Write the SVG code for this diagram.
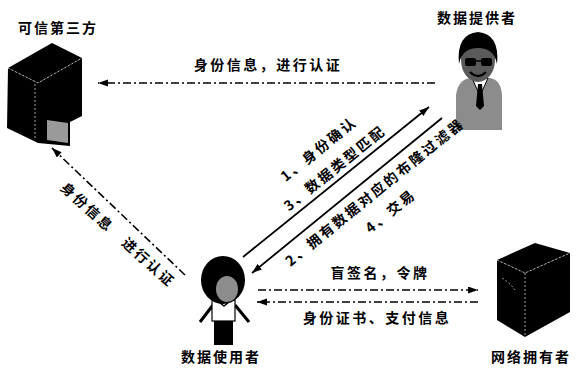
<svg xmlns="http://www.w3.org/2000/svg" width="576" height="375" viewBox="0 0 576 375">
  <defs>
    <style>
      .lbl { font-family: "Noto Sans CJK SC", "Liberation Sans", sans-serif; font-weight: bold; font-size: 14px; fill: #000; letter-spacing: 2.5px; }
      .name { font-family: "Noto Sans CJK SC", "Liberation Sans", sans-serif; font-weight: bold; font-size: 14px; fill: #000; letter-spacing: 2px; text-anchor: middle; }
      .solid { stroke: #000; stroke-width: 1.8; fill: none; }
      .dd { stroke: #000; stroke-width: 1.6; fill: none; stroke-dasharray: 8 3 2 3; }
      .edge { stroke: #fff; stroke-width: 0.8; stroke-dasharray: 2 2; fill: none; opacity: 0.8; }
    </style>
    <marker id="ah" markerUnits="userSpaceOnUse" markerWidth="11" markerHeight="8" refX="10" refY="3.5" orient="auto">
      <path d="M0,0 L10,3.5 L0,7 z" fill="#000"/>
    </marker>
  </defs>

  <rect width="576" height="375" fill="#fff"/>

  <!-- trusted third party: server box -->
  <g id="trusted-party">
    <text class="name" x="58" y="33">可信第三方</text>
    <polygon points="8,68 52,43 82,58 38,83" fill="#000"/>
    <polygon points="8,68 38,83 38,143 7,128" fill="#000"/>
    <polygon points="38,83 82,58 82,116 70,122 70,146 38,143" fill="#000"/>
    <polygon points="47,120 68,123 68,143 47,140" fill="#9a9a9a"/>
    <polyline class="edge" points="8,68 38,83 82,58"/>
    <line class="edge" x1="35" y1="84" x2="35" y2="140"/>
  </g>

  <!-- data provider: man in suit -->
  <g id="data-provider">
    <text class="name" x="477" y="23">数据提供者</text>
    <path d="M456,130 L456,95 Q458,80 470,78 L490,78 Q501,80 502,95 L502,130 z" fill="#8c8c8c"/>
    <path d="M472,78 L480,96 L488,78 z" fill="#fff" stroke="#000" stroke-width="1"/>
    <path d="M478,84 L482,84 L484,106 L480,110 L476,106 z" fill="#000"/>
    <ellipse cx="478" cy="60" rx="17" ry="22" fill="#5a5a5a"/>
    <path d="M459,64 Q456,34 478,32 Q500,34 497,64 Q494,48 478,48 Q462,48 459,64 z" fill="#000"/>
    <rect x="465" y="58" width="11" height="8" rx="2" fill="#000"/>
    <rect x="481" y="58" width="11" height="8" rx="2" fill="#000"/>
    <line x1="476" y1="61" x2="481" y2="61" stroke="#000" stroke-width="1.5"/>
    <path d="M470,72 Q478,80 486,72" fill="none" stroke="#000" stroke-width="2"/>
  </g>

  <!-- data user: small figure -->
  <g id="data-user">
    <text class="name" x="221" y="362">数据使用者</text>
    <line x1="213" y1="305" x2="200" y2="322" stroke="#000" stroke-width="3"/>
    <line x1="235" y1="305" x2="249" y2="322" stroke="#000" stroke-width="3"/>
    <rect x="214" y="318" width="19" height="27" fill="#000"/>
    <rect x="212" y="300" width="23" height="21" fill="#fff" stroke="#000" stroke-width="1.2"/>
    <ellipse cx="223" cy="280" rx="22" ry="24" fill="#000"/>
    <ellipse cx="227" cy="289" rx="11" ry="13" fill="#8c8c8c"/>
    <path d="M219,302 L224,306 L229,302" fill="none" stroke="#000" stroke-width="1.5"/>
  </g>

  <!-- network owner: server box -->
  <g id="network-owner">
    <text class="name" x="531" y="362">网络拥有者</text>
    <polygon points="497,260 535,243 570,253 525,273" fill="#000"/>
    <polygon points="497,260 525,273 525,337 497,320" fill="#000"/>
    <polygon points="525,273 570,253 570,312 525,337" fill="#000"/>
    <polyline class="edge" points="497,260 525,273 570,253"/>
    <line class="edge" x1="525" y1="273" x2="525" y2="335"/>
    <path class="edge" d="M502,278 Q510,283 515,290"/>
  </g>

  <!-- connectors -->
  <g id="connectors">
    <line class="dd" x1="435" y1="83" x2="98" y2="83" marker-end="url(#ah)"/>
    <line class="dd" x1="185" y1="275" x2="52" y2="148" marker-end="url(#ah)"/>
    <line class="solid" x1="243" y1="257" x2="429" y2="107" marker-end="url(#ah)"/>
    <line class="solid" x1="442" y1="118" x2="252" y2="273" marker-end="url(#ah)"/>
    <line class="dd" x1="258" y1="290" x2="478" y2="290" marker-end="url(#ah)"/>
    <line class="dd" x1="478" y1="302" x2="257" y2="302" marker-end="url(#ah)"/>

    <text class="lbl" x="268" y="70" text-anchor="middle">身份信息，进行认证</text>
    <text class="lbl" transform="rotate(42 118 235)" x="118" y="240" text-anchor="middle">身份信息　进行认证</text>
    <text class="lbl" transform="rotate(-39 322 153)" x="322" y="153" text-anchor="middle">1、身份确认</text>
    <text class="lbl" transform="rotate(-39 338 172)" x="338" y="172" text-anchor="middle">3、数据类型匹配</text>
    <text class="lbl" transform="rotate(-39 378 196)" x="378" y="196" text-anchor="middle">2、拥有数据对应的布隆过滤器</text>
    <text class="lbl" transform="rotate(-39 394 215)" x="394" y="215" text-anchor="middle">4、交易</text>
    <text class="lbl" x="380" y="278" text-anchor="middle">盲签名，令牌</text>
    <text class="lbl" x="377" y="323" text-anchor="middle">身份证书、支付信息</text>
  </g>
</svg>
